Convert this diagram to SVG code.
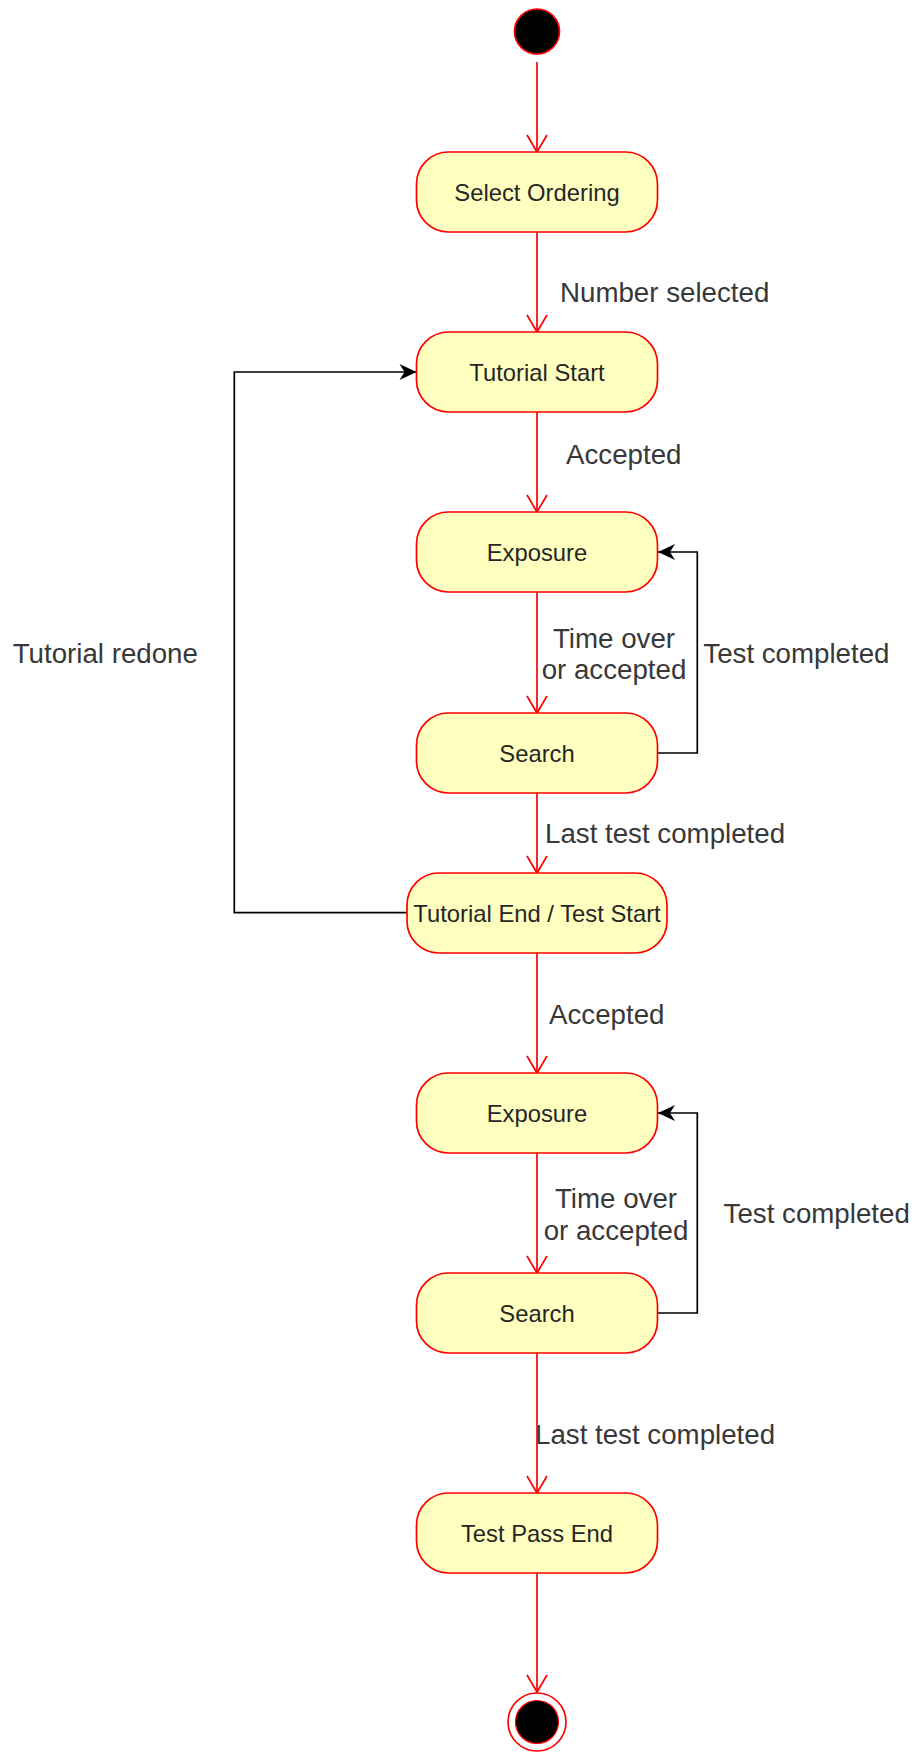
<svg xmlns="http://www.w3.org/2000/svg" width="916" height="1752" viewBox="0 0 916 1752">
<style>
.state{fill:#ffffc0;stroke:#ff0000;stroke-width:1.7}
.ntext{font-family:"Liberation Sans",Arial,sans-serif;font-size:23.8px;fill:#262626;text-anchor:middle}
.elabel{font-family:"Liberation Sans",Arial,sans-serif;font-size:27.7px;fill:#383838}
.red{fill:none;stroke:#ff0000;stroke-width:1.7}
.blk{fill:none;stroke:#000000;stroke-width:1.7}
</style>
<defs>
<marker id="open" markerUnits="userSpaceOnUse" viewBox="-20 -12 22 24" refX="0" refY="0" markerWidth="22" markerHeight="24" orient="auto" overflow="visible">
<path d="M-17,-10 L0,0 L-17,10" fill="none" stroke="#ff0000" stroke-width="1.7"/>
</marker>
<marker id="classic" markerUnits="userSpaceOnUse" viewBox="-18 -9 20 18" refX="0" refY="0" markerWidth="20" markerHeight="18" orient="auto" overflow="visible">
<path d="M0,0 L-17,-8 L-12,0 L-17,8 Z" fill="#000000"/>
</marker>
</defs>

<g id="connectors">
<line class="red" x1="537" y1="62" x2="537" y2="152" marker-end="url(#open)"/>
<line class="red" x1="537" y1="232" x2="537" y2="332" marker-end="url(#open)"/>
<line class="red" x1="537" y1="412" x2="537" y2="512" marker-end="url(#open)"/>
<line class="red" x1="537" y1="592" x2="537" y2="713" marker-end="url(#open)"/>
<line class="red" x1="537" y1="793" x2="537" y2="873" marker-end="url(#open)"/>
<line class="red" x1="537" y1="953" x2="537" y2="1073" marker-end="url(#open)"/>
<line class="red" x1="537" y1="1153" x2="537" y2="1273" marker-end="url(#open)"/>
<line class="red" x1="537" y1="1353" x2="537" y2="1493" marker-end="url(#open)"/>
<line class="red" x1="537" y1="1573" x2="537" y2="1692" marker-end="url(#open)"/>
<polyline class="blk" points="657.5,753 697.3,753 697.3,552 658,552" marker-end="url(#classic)"/>
<polyline class="blk" points="657.5,1313 697.3,1313 697.3,1113 658,1113" marker-end="url(#classic)"/>
<polyline class="blk" points="407,912.7 234.3,912.7 234.3,372 416.5,372" marker-end="url(#classic)"/>
<text class="elabel" x="560" y="301.7">Number selected</text>
<text class="elabel" x="566" y="464">Accepted</text>
<text class="elabel" x="614" y="647.7" text-anchor="middle">Time over</text>
<text class="elabel" x="614" y="679" text-anchor="middle">or accepted</text>
<text class="elabel" x="703.3" y="662.7">Test completed</text>
<text class="elabel" x="12.7" y="663.3">Tutorial redone</text>
<text class="elabel" x="545" y="843.3">Last test completed</text>
<text class="elabel" x="549" y="1024">Accepted</text>
<text class="elabel" x="616" y="1208.3" text-anchor="middle">Time over</text>
<text class="elabel" x="616" y="1240" text-anchor="middle">or accepted</text>
<text class="elabel" x="723.6" y="1223.3">Test completed</text>
<text class="elabel" x="535" y="1444">Last test completed</text>
</g>

<g id="start">
<circle cx="537" cy="31.5" r="22.5" fill="#000000" stroke="#ff0000" stroke-width="1.7"/>
</g>
<g id="select-ordering">
<rect class="state" x="416.5" y="152" width="241" height="80" rx="32" ry="32"/>
<text class="ntext" x="537" y="200.5">Select Ordering</text>
</g>
<g id="tutorial-start">
<rect class="state" x="416.5" y="332" width="241" height="80" rx="32" ry="32"/>
<text class="ntext" x="537" y="380.5">Tutorial Start</text>
</g>
<g id="exposure-1">
<rect class="state" x="416.5" y="512" width="241" height="80" rx="32" ry="32"/>
<text class="ntext" x="537" y="560.5">Exposure</text>
</g>
<g id="search-1">
<rect class="state" x="416.5" y="713" width="241" height="80" rx="32" ry="32"/>
<text class="ntext" x="537" y="761.5">Search</text>
</g>
<g id="tutorial-end">
<rect class="state" x="407" y="873" width="260" height="80" rx="32" ry="32"/>
<text class="ntext" x="537" y="921.5">Tutorial End / Test Start</text>
</g>
<g id="exposure-2">
<rect class="state" x="416.5" y="1073" width="241" height="80" rx="32" ry="32"/>
<text class="ntext" x="537" y="1121.5">Exposure</text>
</g>
<g id="search-2">
<rect class="state" x="416.5" y="1273" width="241" height="80" rx="32" ry="32"/>
<text class="ntext" x="537" y="1321.5">Search</text>
</g>
<g id="test-pass-end">
<rect class="state" x="416.5" y="1493" width="241" height="80" rx="32" ry="32"/>
<text class="ntext" x="537" y="1541.5">Test Pass End</text>
</g>
<g id="end">
<circle cx="537" cy="1722" r="29" fill="#ffffff" stroke="#ff0000" stroke-width="1.7"/>
<circle cx="537" cy="1722" r="21.5" fill="#000000" stroke="#ff0000" stroke-width="1.2"/>
</g>
</svg>
